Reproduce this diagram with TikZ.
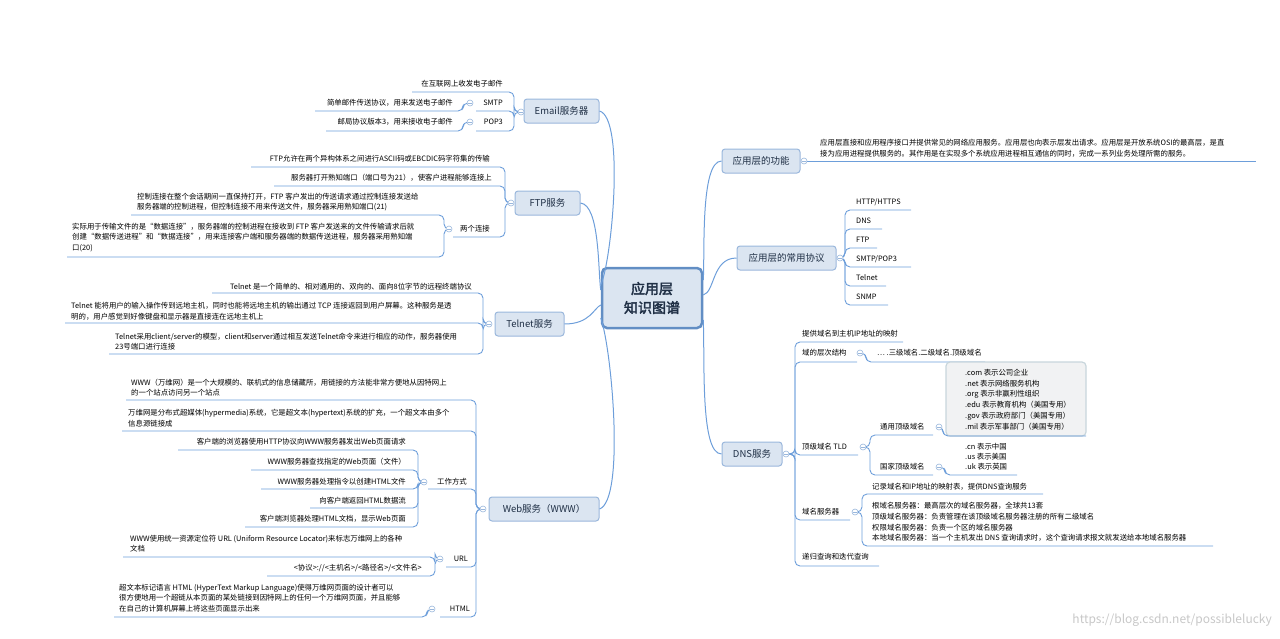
\documentclass[tikz,border=0pt]{standalone}
\usepackage{fontspec}
\setmainfont{Noto Sans CJK SC}[AutoFakeBold=2.5]
\definecolor{ln}{HTML}{6D9EDA}
\definecolor{bxf}{HTML}{DBE5F1}
\definecolor{bxd}{HTML}{9AB7DC}
\definecolor{tx}{HTML}{1F2F45}
\tikzset{
  conn/.style={draw=ln,line width=0.9pt,rounded corners=5},
  br/.style={draw=bxd,fill=bxf,line width=1pt,rounded corners=3,minimum height=24,inner sep=0,text=tx,font=\fontsize{9.5}{11}\selectfont},
  lt/.style={inner sep=0,font=\fontsize{7.4}{10.6}\selectfont,text=black},
  dotm/.style={circle,draw=bxd,fill=white,line width=0.6pt,minimum size=6,inner sep=0}
}
\newcommand\lf[5]{\draw[conn] (#1,#2) -- (#3,#2) -- (#3,#4) -- (#5,#4);}
\newcommand\dm[3]{\node[dotm] (#1) at (#2,#3) {}; \draw[bxd,line width=0.6pt] (#2-1.6,#3) -- (#2+1.6,#3);}
\begin{document}
\begin{tikzpicture}[x=1pt,y=-1pt]
\useasboundingbox (0,0) rectangle (1280,638);
% central
\node[draw=ln!90!black,fill=bxf,line width=2.5pt,rounded corners=5,minimum width=100,minimum height=60,align=center,text=tx,font=\fontsize{14}{19}\selectfont\bfseries] (c) at (652,298) {应用层\\知识图谱};
% branch boxes
\node[br,minimum width=75] (em) at (561.5,111) {Email服务器};
\node[br,minimum width=65] (ftp) at (547.5,203) {FTP服务};
\node[br,minimum width=69] (tel) at (529.5,324) {Telnet服务};
\node[br,minimum width=110] (web) at (544,509) {Web服务（WWW）};
\node[br,minimum width=78] (fn) at (761,161) {应用层的功能};
\node[br,minimum width=99] (pr) at (786.5,258) {应用层的常用协议};
\node[br,minimum width=60] (dns) at (752,454) {DNS服务};
% central connectors
\draw[ln,line width=1pt] (em.east) .. controls (625,118) and (612,260) .. (c.west |- 0,285);
\draw[ln,line width=1pt] (ftp.east) .. controls (600,205) and (598,272) .. (c.west |- 0,290);
\draw[ln,line width=1pt] (tel.east) .. controls (590,324) and (594,308) .. (c.west |- 0,305);
\draw[ln,line width=1pt] (web.east) .. controls (625,500) and (612,350) .. (c.west |- 0,318);
\draw[ln,line width=1pt] (fn.west) .. controls (700,161) and (705,255) .. (c.east |- 0,280);
\draw[ln,line width=1pt] (pr.west) .. controls (712,258) and (715,292) .. (c.east |- 0,295);
\draw[ln,line width=1pt] (dns.west) .. controls (700,454) and (705,360) .. (c.east |- 0,320);
% ---- Email
\lf{521}{112}{514}{92}{412}
\node[lt,anchor=east] (e1) at (503,84) {在互联网上收发电子邮件};
\lf{521}{112}{514}{111}{476}
\node[lt,anchor=east] (e2) at (503,103) {SMTP};
\lf{470}{103}{463}{111}{315}
\node[lt,anchor=east] (e2a) at (453,103) {简单邮件传送协议，用来发送电子邮件};
\lf{521}{112}{514}{131}{476}
\node[lt,anchor=east] (e3) at (503,122) {POP3};
\lf{470}{122}{463}{131}{326}
\node[lt,anchor=east] (e3a) at (453,122) {邮局协议版本3，用来接收电子邮件};
% ---- FTP
\lf{511}{203}{505}{167}{251}
\node[lt,anchor=east] (f1) at (490,159) {FTP允许在两个异构体系之间进行ASCII码或EBCDIC码字符集的传输};
\lf{511}{203}{505}{186}{274}
\node[lt,anchor=east] (f2) at (492,178) {服务器打开熟知端口（端口号为21），使客户进程能够连接上};
\lf{511}{203}{505}{237}{453}
\node[lt,anchor=east] (f3) at (490,229) {两个连接};
\lf{449}{229}{444}{215}{131}
\node[lt,anchor=west,align=left] (f3a) at (137,202) {控制连接在整个会话期间一直保持打开，FTP 客户发出的传送请求通过控制连接发送给\\服务器端的控制进程，但控制连接不用来传送文件，服务器采用熟知端口(21)};
\lf{449}{229}{444}{257}{67}
\node[lt,anchor=west,align=left] (f3b) at (72,237.5) {实际用于传输文件的是“数据连接”，服务器端的控制进程在接收到 FTP 客户发送来的文件传输请求后就\\创建“数据传送进程”和“数据连接”，用来连接客户端和服务器端的数据传送进程，服务器采用熟知端\\口(20)};
% ---- Telnet
\lf{489}{324}{483}{293}{212}
\node[lt,anchor=east] (t1) at (472,287) {Telnet 是一个简单的、相对通用的、双向的、面向8位字节的远程终端协议};
\lf{489}{324}{483}{323}{65}
\node[lt,anchor=west,align=left] (t2) at (71,311.5) {Telnet 能将用户的输入操作传到远地主机，同时也能将远地主机的输出通过 TCP 连接返回到用户屏幕。这种服务是透\\明的，用户感觉到好像键盘和显示器是直接连在远地主机上};
\lf{489}{324}{483}{354}{109}
\node[lt,anchor=west,align=left] (t3) at (115,341.5) {Telnet采用client/server的模型，client和server通过相互发送Telnet命令来进行相应的动作，服务器使用\\23号端口进行连接};
% ---- Web
\lf{483}{509}{476}{400}{126}
\node[lt,anchor=west,align=left] (w1) at (131,387.5) {WWW（万维网）是一个大规模的、联机式的信息储藏所，用链接的方法能非常方便地从因特网上\\的一个站点访问另一个站点};
\lf{483}{509}{476}{431}{122}
\node[lt,anchor=west,align=left] (w2) at (128,418) {万维网是分布式超媒体(hypermedia)系统，它是超文本(hypertext)系统的扩充，一个超文本由多个\\信息源链接成};
\lf{483}{509}{476}{489}{428}
\node[lt,anchor=east] (w3) at (467,482) {工作方式};
\lf{424}{482}{418}{450}{178}
\node[lt,anchor=east] (w3a) at (406,442) {客户端的浏览器使用HTTP协议向WWW服务器发出Web页面请求};
\lf{424}{482}{418}{470}{251}
\node[lt,anchor=east] (w3b) at (406,462) {WWW服务器查找指定的Web页面（文件）};
\lf{424}{482}{418}{489}{261}
\node[lt,anchor=east] (w3c) at (406,482) {WWW服务器处理指令以创建HTML文件};
\lf{424}{482}{418}{508}{310}
\node[lt,anchor=east] (w3d) at (406,501) {向客户端返回HTML数据流};
\lf{424}{482}{418}{527}{245}
\node[lt,anchor=east] (w3e) at (406,519) {客户端浏览器处理HTML文档，显示Web页面};
\lf{483}{509}{476}{567}{446}
\node[lt,anchor=east] (w4) at (468,559) {URL};
\lf{440}{559}{435}{557}{123}
\node[lt,anchor=west,align=left] (w4a) at (130,543.5) {WWW使用统一资源定位符 URL (Uniform Resource Locator)来标志万维网上的各种\\文档};
\lf{440}{559}{435}{576}{267}
\node[lt,anchor=east] (w4b) at (422,568) {<协议>://<主机名>/<路径名>/<文件名>};
\lf{483}{509}{476}{617}{440}
\node[lt,anchor=east] (w5) at (470,609) {HTML};
\lf{432}{609}{427}{617}{114}
\node[lt,anchor=west,align=left] (w5a) at (119,598) {超文本标记语言 HTML (HyperText Markup Language)使得万维网页面的设计者可以\\很方便地用一个超链从本页面的某处链接到因特网上的任何一个万维网页面，并且能够\\在自己的计算机屏幕上将这些页面显示出来};
% ---- function
\draw[conn] (804,161) -- (1256,161);
\node[lt,anchor=west,align=left] (fn1) at (820,148) {应用层直接和应用程序接口并提供常见的网络应用服务。应用层也向表示层发出请求。应用层是开放系统OSI的最高层，是直\\接为应用进程提供服务的。其作用是在实现多个系统应用进程相互通信的同时，完成一系列业务处理所需的服务。};
% ---- protocols
\lf{840}{258}{845}{210}{911}
\node[lt,anchor=west] (p1) at (856,202) {HTTP/HTTPS};
\lf{840}{258}{845}{229}{882}
\node[lt,anchor=west] (p2) at (856,221) {DNS};
\lf{840}{258}{845}{248}{877}
\node[lt,anchor=west] (p3) at (856,240) {FTP};
\lf{840}{258}{845}{267}{911}
\node[lt,anchor=west] (p4) at (856,259) {SMTP/POP3};
\lf{840}{258}{845}{286}{886}
\node[lt,anchor=west] (p5) at (856,278) {Telnet};
\lf{840}{258}{845}{305}{888}
\node[lt,anchor=west] (p6) at (856,297) {SNMP};
% ---- DNS
\lf{786}{454}{795}{342}{903}
\node[lt,anchor=west] (d1) at (802,334) {提供域名到主机IP地址的映射};
\lf{786}{454}{795}{362}{857}
\node[lt,anchor=west] (d2) at (802,353) {域的层次结构};
\lf{860}{353}{866}{362}{985}
\node[lt,anchor=west] (d2a) at (877,353) {… .三级域名.二级域名.顶级域名};
\lf{786}{454}{795}{455}{858}
\node[lt,anchor=west] (d3) at (802,447) {顶级域名 TLD};
\lf{863}{447}{870}{435}{933}
\node[lt,anchor=west] (d3a) at (880,427) {通用顶级域名};
\node[draw=cyan!25!gray!40,fill=cyan!8!gray!12,line width=1.2pt,rounded corners=4,minimum width=140,minimum height=74] (tldbox) at (1016,399) {};
\lf{939}{427}{943}{436}{1086}
\node[lt,anchor=west,align=left,font=\fontsize{7.4}{10.8}\selectfont] (d3ab) at (965,399.5) {.com 表示公司企业\\.net 表示网络服务机构\\.org 表示非赢利性组织\\.edu 表示教育机构（美国专用）\\.gov 表示政府部门（美国专用）\\.mil 表示军事部门（美国专用）};
\lf{863}{447}{870}{475}{933}
\node[lt,anchor=west] (d3b) at (880,467) {国家顶级域名};
\lf{939}{467}{945}{475}{1017}
\node[lt,anchor=west,align=left,font=\fontsize{7.4}{10}\selectfont] (d3bb) at (965,457) {.cn 表示中国\\.us 表示美国\\.uk 表示英国};
\lf{786}{454}{795}{520}{850}
\node[lt,anchor=west] (d4) at (802,512) {域名服务器};
\lf{855}{512}{862}{494}{1043}
\node[lt,anchor=west] (d4a) at (872,487) {记录域名和IP地址的映射表，提供DNS查询服务};
\lf{855}{512}{862}{546}{1213}
\node[lt,anchor=west,align=left] (d4b) at (872,522) {根域名服务器：最高层次的域名服务器，全球共13套\\顶级域名服务器：负责管理在该顶级域名服务器注册的所有二级域名\\权限域名服务器：负责一个区的域名服务器\\本地域名服务器：当一个主机发出 DNS 查询请求时，这个查询请求报文就发送给本地域名服务器};
\lf{786}{454}{795}{566}{879}
\node[lt,anchor=west] (d5) at (802,557) {递归查询和迭代查询};
% ---- markers
\dm{m1}{521}{112} \dm{m2}{470}{103} \dm{m3}{470}{122}
\dm{m4}{511}{203} \dm{m5}{449}{229}
\dm{m6}{489}{324}
\dm{m7}{483}{509} \dm{m8}{424}{482} \dm{m9}{440}{559} \dm{m10}{432}{609}
\dm{m11}{804}{161} \dm{m12}{840}{258}
\dm{m13}{786}{454} \dm{m14}{860}{353} \dm{m15}{863}{447} \dm{m16}{939}{427} \dm{m17}{939}{467} \dm{m18}{855}{512}
% watermark
\node[inner sep=0,anchor=east,text=black!22,font=\fontsize{12}{14}\selectfont] (wm) at (1272,620) {https://blog.csdn.net/possiblelucky};
\end{tikzpicture}
\end{document}
